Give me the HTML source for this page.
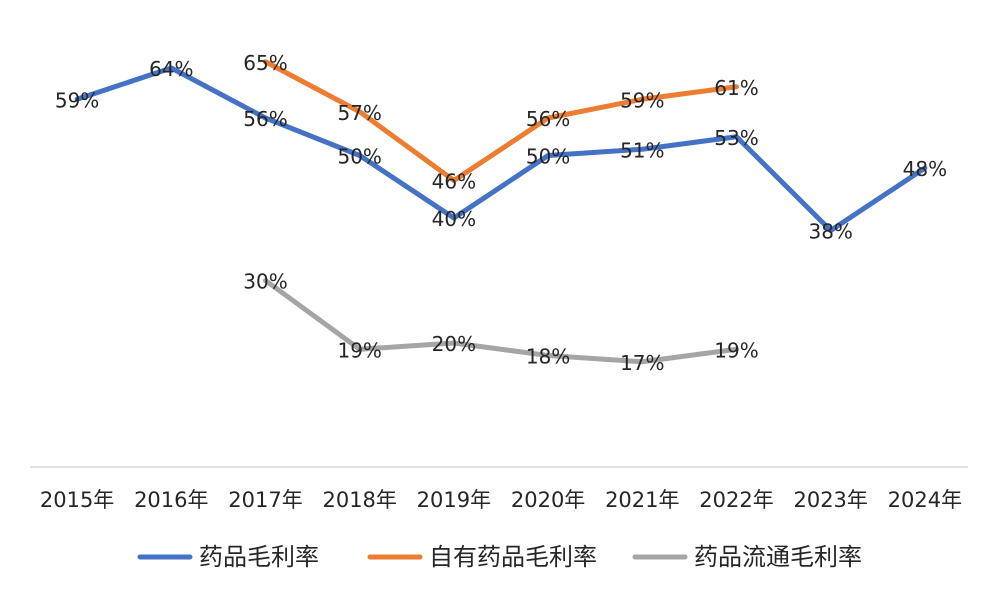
<!DOCTYPE html>
<html><head><meta charset="utf-8"><style>
body{margin:0;background:#fff;width:1001px;height:599px;overflow:hidden}
svg text{font-family:"DejaVu Sans","Noto Sans CJK SC",sans-serif;fill:#262626}
</style></head><body>
<svg id="chart" width="1001" height="599"></svg>
<script>
const categories=["2015年","2016年","2017年","2018年","2019年","2020年","2021年","2022年","2023年","2024年"];
const drugMargin=[59,64,56,50,40,50,51,53,38,48];
const ownDrugMargin=[null,null,65,57,46,56,59,61,null,null];
const distMargin=[null,null,30,19,20,18,17,19,null,null];
const seriesNames=["药品毛利率","自有药品毛利率","药品流通毛利率"];
const svg=document.getElementById('chart');
const NS="http://www.w3.org/2000/svg";
const x0=30,step=94.2,yZero=468,pxPer=6.25;
const xs=i=>x0+step*(i+0.5);
const ys=v=>yZero-v*pxPer;
function mk(t,a,p){const e=document.createElementNS(NS,t);for(const k in a)e.setAttribute(k,a[k]);(p||svg).appendChild(e);return e;}
const ax=mk('line',{x1:30,x2:968,y1:467,y2:467,stroke:'#d9d9d9','stroke-width':1.5});


categories.forEach((c,i)=>{const t=mk('text',{x:xs(i),y:507,'text-anchor':'middle','font-size':21});t.textContent=c;

});
const series=[[drugMargin,'#4472C4'],[ownDrugMargin,'#ED7D31'],[distMargin,'#A5A5A5']];
series.forEach(([d,col],si)=>{
 const pts=[];d.forEach((v,i)=>{if(v!=null)pts.push(xs(i)+','+ys(v));});
 const p=mk('polyline',{points:pts.join(' '),fill:'none',stroke:col,'stroke-width':5,'stroke-linejoin':'round','stroke-linecap':'round'});
 
 
 d.forEach((v,i)=>{if(v==null)return;const t=mk('text',{x:xs(i),y:ys(v)+8,'text-anchor':'middle','font-size':20});t.textContent=v+'%';
 
 });
});
const lx=[140,370,635];
series.forEach(([d,col],si)=>{
 const g=mk('g',{});
 
 
 mk('line',{x1:lx[si],x2:lx[si]+50,y1:557,y2:557,stroke:col,'stroke-width':5,'stroke-linecap':'round'},g);
 const t=mk('text',{x:lx[si]+59,y:565,'font-size':24},g);t.textContent=seriesNames[si];
});
</script>
</body></html>
